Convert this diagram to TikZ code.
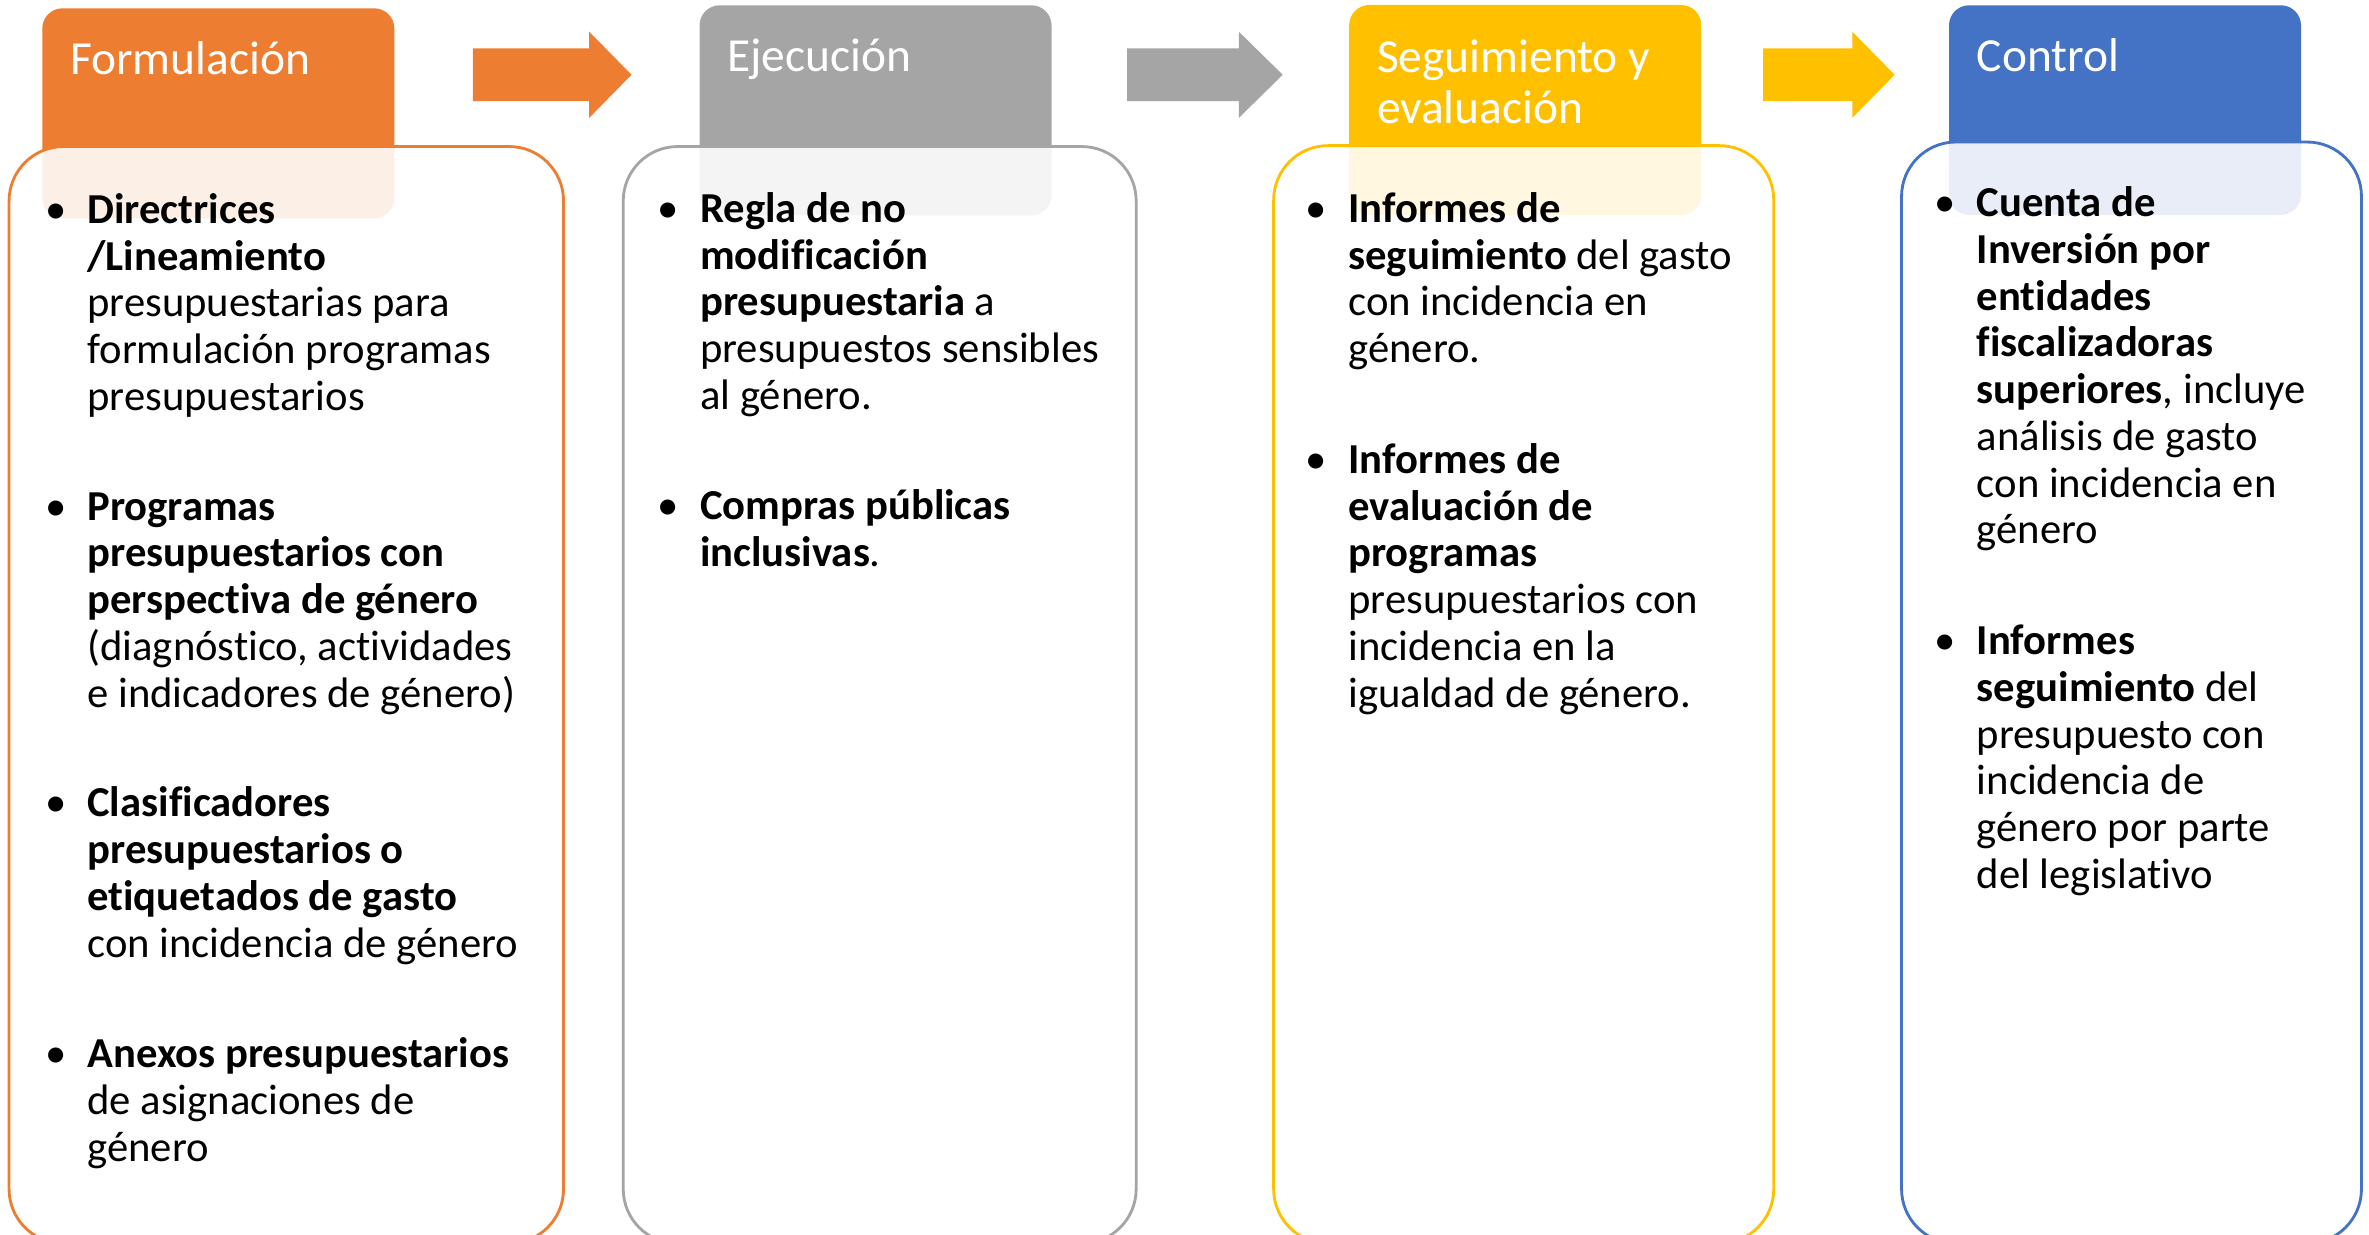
\documentclass[tikz,border=0pt]{standalone}
\usepackage{fontspec}
\setmainfont{Carlito}[Ligatures={TeX,NoCommon}]
\usepackage{tikz}
\definecolor{naranja}{rgb}{0.929,0.490,0.192}
\definecolor{gris}{rgb}{0.647,0.647,0.647}
\definecolor{amarillo}{rgb}{1.,0.753,0.}
\definecolor{azul}{rgb}{0.267,0.447,0.769}
\tikzset{
  punto/.style={anchor=base west,align=left,inner sep=0pt,font=\fontsize{12.05pt}{13.2pt}\selectfont},
  titulo/.style={anchor=base west,align=left,inner sep=0pt,text=white,font=\fontsize{13.4pt}{14.5pt}\selectfont},
  cabeza/.style={rounded corners=0.2cm},
  cuerpo/.style={line width=0.8pt,fill=white,fill opacity=0.88,rounded corners=0.54cm}
}
\newcommand{\bul}{\llap{\textbullet\hskip 0.21cm}}
\begin{document}
\begin{tikzpicture}[line cap=round,line join=round,x=0.015cm,y=-0.015cm]
\useasboundingbox (0,0) rectangle (1568,817);
\clip (0,0) rectangle (1568,817);
% cabeceras
\fill [cabeza,color=naranja] (28,5.5) rectangle (261,144.5);
\fill [cabeza,color=gris] (463,3.5) rectangle (696,142.5);
\fill [cabeza,color=amarillo] (893,3.3) rectangle (1126,142.3);
\fill [cabeza,color=azul] (1290,3.5) rectangle (1523,142.3);
% flechas
\fill [color=naranja] (313,32) -- (390,32) -- (390,21) -- (418,49.5) -- (390,78) -- (390,67) -- (313,67) -- cycle;
\fill [color=gris] (746,32) -- (820,32) -- (820,21) -- (849,49.5) -- (820,78) -- (820,67) -- (746,67) -- cycle;
\fill [color=amarillo] (1167,32) -- (1226,32) -- (1226,21) -- (1254,49.5) -- (1226,78) -- (1226,67) -- (1167,67) -- cycle;
% cuerpos
\filldraw [cuerpo,draw=naranja] (6,97) rectangle (373,823);
\filldraw [cuerpo,draw=gris] (412.5,97) rectangle (752,823);
\filldraw [cuerpo,draw=amarillo] (843,96.4) rectangle (1174,823);
\filldraw [cuerpo,draw=azul] (1258.6,94) rectangle (1563,823);
% titulos (base = ultima linea)
\node [titulo] (tf) at (46,49.5) {Formulación};
\node [titulo] (te) at (481,47.5) {Ejecución};
\node [titulo] (ts) at (911,82) {Seguimiento y\\evaluación};
\node [titulo] (tc) at (1308,47.5) {Control};
% formulacion
\node [punto] (f1) at (57.4,271.5) {\bul\textbf{Directrices}\\\textbf{/Lineamiento}\\presupuestarias para\\formulación programas\\presupuestarios};
\node [punto] (f2) at (57.4,468) {\bul\textbf{Programas}\\\textbf{presupuestarios con}\\\textbf{perspectiva de género}\\(diagnóstico, actividades\\e indicadores de género)};
\node [punto] (f3) at (57.4,633.5) {\bul\textbf{Clasificadores}\\\textbf{presupuestarios o}\\\textbf{etiquetados de gasto}\\con incidencia de género};
\node [punto] (f4) at (57.4,768.5) {\bul\textbf{Anexos presupuestarios}\\de asignaciones de\\género};
% ejecucion
\node [punto] (e1) at (463,271) {\bul\textbf{Regla de no}\\\textbf{modificación}\\\textbf{presupuestaria} a\\presupuestos sensibles\\al género.};
\node [punto] (e2) at (463,375) {\bul\textbf{Compras públicas}\\\textbf{inclusivas}.};
% seguimiento
\node [punto] (s1) at (892,240) {\bul\textbf{Informes de}\\\textbf{seguimiento} del gasto\\con incidencia en\\género.};
\node [punto] (s2) at (892,468) {\bul\textbf{Informes de}\\\textbf{evaluación de}\\\textbf{programas}\\presupuestarios con\\incidencia en la\\igualdad de género.};
% control
\node [punto] (c1) at (1308,360) {\bul\textbf{Cuenta de}\\\textbf{Inversión por}\\\textbf{entidades}\\\textbf{fiscalizadoras}\\\textbf{superiores}, incluye\\análisis de gasto\\con incidencia en\\género};
\node [punto] (c2) at (1308,588) {\bul\textbf{Informes}\\\textbf{seguimiento} del\\presupuesto con\\incidencia de\\género por parte\\del legislativo};
\end{tikzpicture}
\end{document}
